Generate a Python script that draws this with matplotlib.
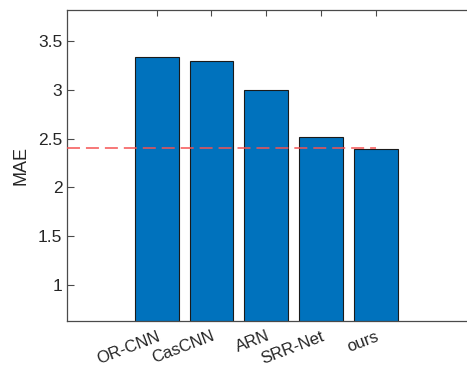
import matplotlib
matplotlib.use("Agg")
import matplotlib.pyplot as plt

methods = ["OR-CNN", "CasCNN", "ARN", "SRR-Net", "ours"]
mae = [3.333, 3.295, 3.001, 2.516, 2.395]
ref_line = 2.40
yticks = [1, 1.5, 2, 2.5, 3, 3.5]
ytick_labels = ["1", "1.5", "2", "2.5", "3", "3.5"]

plt.rcParams['font.family'] = ['Liberation Sans', 'DejaVu Sans']

fig = plt.figure(figsize=(4.67, 3.74), dpi=100)
ax = fig.add_axes([67/467, 1-321/374, 1-67/467, (321-10)/374])

x = list(range(1, len(methods) + 1))
ax.bar(x, mae, width=0.8, color='#0072BD', edgecolor='#1a1a1a', linewidth=0.8, zorder=2)
ax.plot([-0.64, len(methods)], [ref_line, ref_line], linestyle=(0, (8.5, 3.9)),
        color='#F55252', linewidth=1.1, zorder=3)

ax.set_xlim(-0.64, 6.67)
ax.set_ylim(0.633, 3.816)
ax.set_yticks(yticks)
ax.set_yticklabels(ytick_labels)
ax.set_xticks(x)
ax.set_xticklabels(methods, rotation=21, ha='right', va='top', rotation_mode='anchor')

axc = '#262626'
for s in ['left', 'bottom', 'top']:
    ax.spines[s].set_color('#4a4a4a')
    ax.spines[s].set_linewidth(0.9)
ax.spines['right'].set_visible(False)

ax.tick_params(axis='x', direction='in', length=4, width=0.8, colors='#4a4a4a',
               labelcolor=axc, labelsize=12, pad=5.5, top=True, bottom=True)
ax.tick_params(axis='y', direction='in', length=5, width=0.8, colors='#4a4a4a',
               labelcolor=axc, labelsize=12.5, pad=3.4, right=False)
ax.set_ylabel('MAE', fontsize=13, color=axc, labelpad=6)

fig.savefig('out.png', dpi=100)
